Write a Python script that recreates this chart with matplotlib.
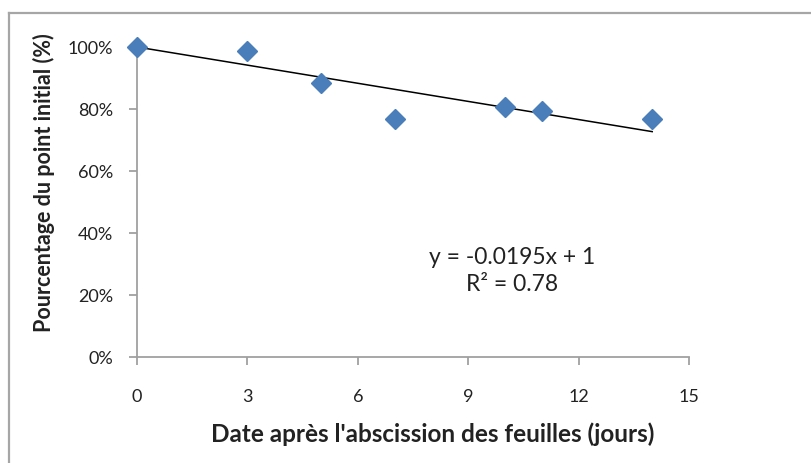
import matplotlib.pyplot as plt
import numpy as np
from matplotlib import ticker
from matplotlib.lines import Line2D

plt.rcParams["font.family"] = ["Lato", "DejaVu Sans"]

# days after leaf abscission and fraction of the initial value
days = [0, 3, 5, 7, 10, 11, 14]
fraction = [1.00, 0.988, 0.885, 0.768, 0.805, 0.795, 0.768]

slope = -0.0195
intercept = 1.0
r2 = 0.78

x_ticks = [0, 3, 6, 9, 12, 15]
y_ticks = [0, 0.2, 0.4, 0.6, 0.8, 1.0]

W, H = 812, 464
fig = plt.figure(figsize=(W / 100, H / 100), dpi=100)
ax = fig.add_axes([137 / W, 1 - 358 / H, 552 / W, 310 / H])

# chart area border (only top and left edges fall inside the image)
fig.lines.append(Line2D([9 / W, 9 / W], [0, 1 - 14 / H], transform=fig.transFigure,
                        color="#a6a6a6", lw=1.6))
fig.lines.append(Line2D([9 / W, 1], [1 - 14 / H, 1 - 14 / H], transform=fig.transFigure,
                        color="#a6a6a6", lw=1.6))

# linear trend line over the data range
xt = np.array([days[0], days[-1]])
ax.plot(xt, slope * xt + intercept, color="black", lw=1.1, zorder=2)

ax.plot(days, fraction, linestyle="none", marker="D", markersize=10,
        color="#4a7ebb", markeredgecolor="#4a7ebb", clip_on=False, zorder=3)

ax.set_xlim(0, 15)
ax.set_ylim(0, 1.0)
ax.set_xticks(x_ticks)
ax.set_yticks(y_ticks)
ax.yaxis.set_major_formatter(ticker.PercentFormatter(1.0, decimals=0))

for side in ["top", "right"]:
    ax.spines[side].set_visible(False)
for side in ["left", "bottom"]:
    ax.spines[side].set_color("#a0a0a0")
    ax.spines[side].set_linewidth(1.3)

ax.tick_params(axis="x", direction="out", length=6, width=1.3, color="#a0a0a0",
               labelsize=13, pad=16, labelcolor="#222222")
ax.tick_params(axis="y", direction="out", length=6, width=1.3, color="#a0a0a0",
               labelsize=13, pad=11, labelcolor="#222222")

ax.set_xlabel("Date après l'abscission des feuilles (jours)", fontsize=17.5,
              fontweight="bold", color="#222222", labelpad=13)
ax.set_ylabel("Pourcentage du point initial (%)", fontsize=15.5,
              fontweight="bold", color="#222222", labelpad=9)
# titles sit a little off the axis centre
ax.xaxis.label.set_x(0.535)
ax.yaxis.label.set_y(0.565)

ax.text(10.2, 0.28, f"y = {slope}x + {intercept:g}\nR² = {r2}", ha="center",
        va="center", fontsize=16.5, color="#222222", linespacing=1.35)

fig.savefig("out.png", dpi=100)
